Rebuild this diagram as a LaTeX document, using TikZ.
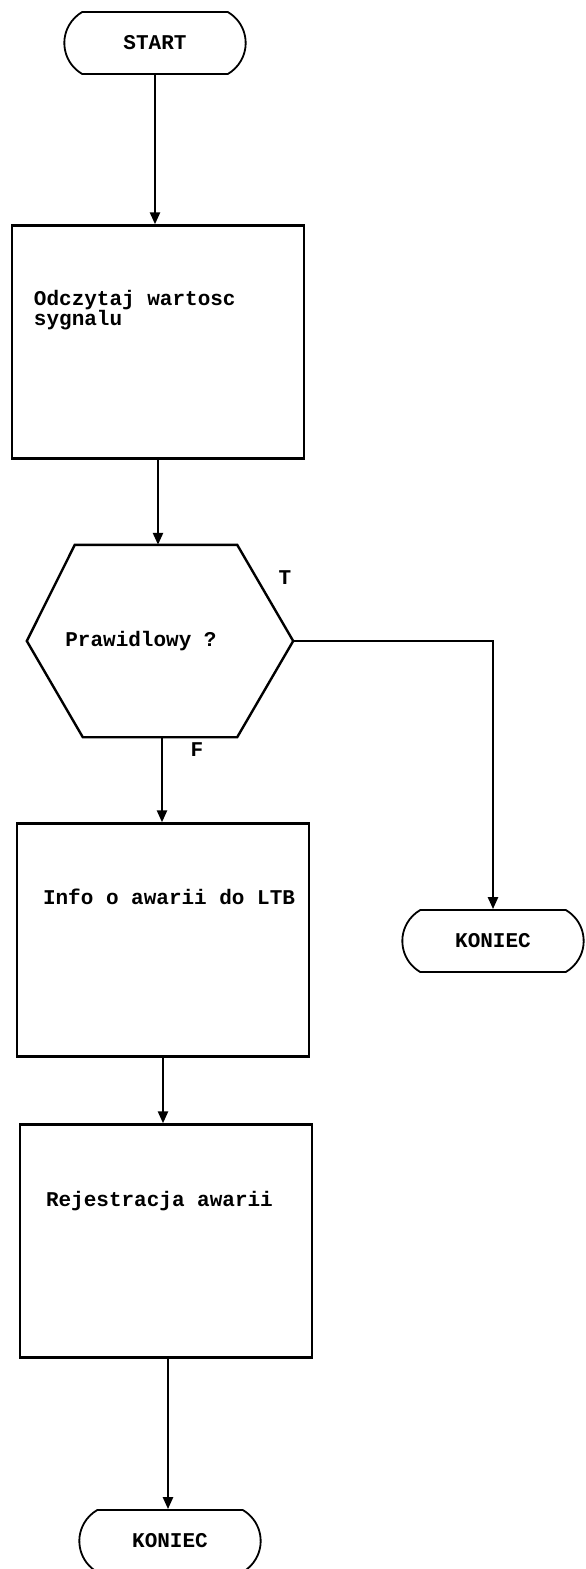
\documentclass[tikz,border=0pt]{standalone}
\usepackage{fontspec}
\setmonofont{Liberation Mono}
\usetikzlibrary{arrows.meta, positioning, shapes.misc, calc}

\begin{document}
\begin{tikzpicture}[x=1pt, y=-1pt,
    proc/.style={rectangle, draw, line width=2.4pt, minimum width=292pt,
                 minimum height=233pt, inner sep=0pt},
    term/.style={rounded rectangle, rounded rectangle arc length=120, draw,
                 line width=1.8pt, minimum width=188pt, minimum height=62pt,
                 font=\ttfamily\bfseries\fontsize{21}{21}\selectfont},
    txt/.style={font=\ttfamily\bfseries\fontsize{21}{20}\selectfont,
                align=left, inner sep=0pt},
    arr/.style={-{Triangle[length=12pt, width=10pt]}, line width=2.4pt},
  ]
    \useasboundingbox (0,0) rectangle (586,1569);

    \node[term] (start) at (155,43) {START};

    \node[proc] (read) at (158,342) {};
    \node[txt, below right=66pt and 23pt] at (read.north west) {Odczytaj wartosc\\sygnalu};

    % decision
    \node[minimum width=266pt, minimum height=192pt, inner sep=0pt] (chk) at (160,641) {};
    \draw[line width=2.4pt] (chk.west) -- ([xshift=48pt]chk.north west)
      -- ([xshift=-56pt]chk.north east) -- (chk.east)
      -- ([xshift=-56pt]chk.south east) -- ([xshift=56pt]chk.south west) -- cycle;
    \node[txt] at ([xshift=-19pt]chk.center) {Prawidlowy ?};
    \node[txt] (yes) at (285,578) {T};
    \node[txt] (no) at (197,750) {F};

    \node[term] (endok) at (493,941) {KONIEC};

    \node[proc] (info) at (163,940) {};
    \node[txt, below right=66pt and 27pt] at (info.north west) {Info o awarii do LTB};

    \node[proc] (reg) at (166,1241) {};
    \node[txt, below right=68pt and 27pt] at (reg.north west) {Rejestracja awarii};

    \node[term] (endfail) at (170,1541) {KONIEC};

    \draw[arr] (start.south) -- (start.south |- read.north);
    \draw[arr] (read.south) -- (read.south |- chk.north);
    \draw[arr] (chk.east) -| (endok.north);
    \draw[arr] ([xshift=2pt]chk.south) -- ([xshift=2pt]chk.south |- info.north);
    \draw[arr] (info.south) -- (info.south |- reg.north);
    \draw[arr] ([xshift=2pt]reg.south) -- ([xshift=2pt]reg.south |- endfail.north);
  \end{tikzpicture}
\end{document}
